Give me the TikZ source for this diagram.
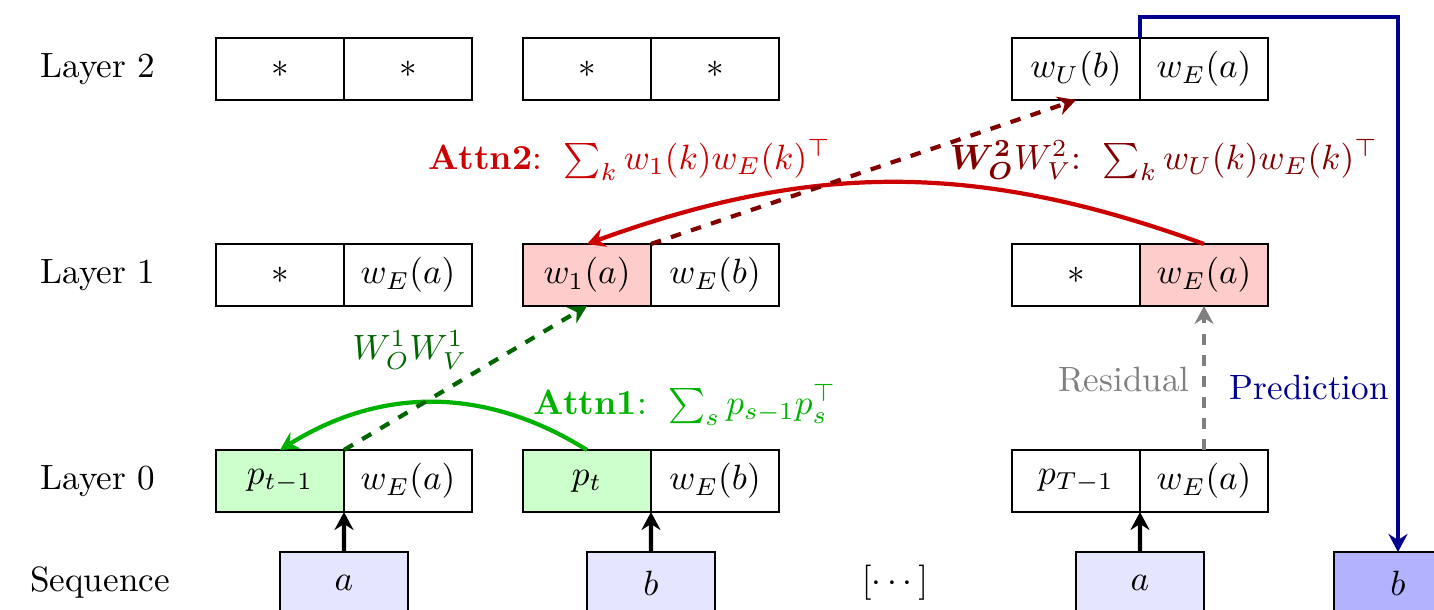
\documentclass[tikz,border=0pt]{standalone}
\usepackage{amsmath,amssymb,bm}
\usepackage{xcolor}
\usepackage{tikz}
\usetikzlibrary{arrows.meta,positioning,calc}

\begin{document}
\begin{tikzpicture}[
  cell/.style={rectangle, draw=black, minimum width=1.28cm, minimum height=0.62cm, inner sep=0pt, outer sep=0pt},
  tok/.style={cell, fill=blue!10},
  attn/.style={draw, -{Stealth[length=1.8mm, width=1.9mm, inset=0.6mm]}, very thick},
  ov/.style={attn, dashed}]

  \useasboundingbox (0,0) rectangle (14.34,-6.10);

  % row labels
  \node (t2) at (0.98,-0.69) {Layer 2};
  \node (t1) at (0.98,-2.75) {Layer 1};
  \node (t0) at (0.98,-4.81) {Layer 0};
  \node (ts) at (1.00,-5.83) {Sequence};

  % layer 2
  \node [cell] (l2g1l) at (2.80,-0.69) {$*$};
  \node [cell, right=0pt of l2g1l] (l2g1r) {$*$};
  \node [cell] (l2g2l) at (5.87,-0.69) {$*$};
  \node [cell, right=0pt of l2g2l] (l2g2r) {$*$};
  \node [cell] (l2g3l) at (10.76,-0.69) {$w_U(b)$};
  \node [cell, right=0pt of l2g3l] (l2g3r) {$w_E(a)$};

  % layer 1
  \node [cell] (l1g1l) at (2.80,-2.75) {$*$};
  \node [cell, right=0pt of l1g1l] (l1g1r) {$w_E(a)$};
  \node [cell, fill=red!20] (l1g2l) at (5.87,-2.75) {$w_1(a)$};
  \node [cell, right=0pt of l1g2l] (l1g2r) {$w_E(b)$};
  \node [cell] (l1g3l) at (10.76,-2.75) {$*$};
  \node [cell, fill=red!20, right=0pt of l1g3l] (l1g3r) {$w_E(a)$};

  % layer 0
  \node [cell, fill=green!20] (l0g1l) at (2.80,-4.81) {$p_{t-1}$};
  \node [cell, right=0pt of l0g1l] (l0g1r) {$w_E(a)$};
  \node [cell, fill=green!20] (l0g2l) at (5.87,-4.81) {$p_t$};
  \node [cell, right=0pt of l0g2l] (l0g2r) {$w_E(b)$};
  \node [cell] (l0g3l) at (10.76,-4.81) {$p_{T-1}$};
  \node [cell, right=0pt of l0g3l] (l0g3r) {$w_E(a)$};

  % sequence
  \node [tok] (s1) at (3.44,-5.83) {$a$};
  \node [tok] (s2) at (6.51,-5.83) {$b$};
  \node (s3) at (8.95,-5.83) {$[\cdots]$};
  \node [tok] (s4) at (11.40,-5.83) {$a$};
  \node [tok, fill=blue!30] (s5) at (13.98,-5.83) {$b$};

  \path [attn] (s1.north) -- (l0g1l.south east);
  \path [attn] (s2.north) -- (l0g2l.south east);
  \path [attn] (s4.north) -- (l0g3l.south east);

  % attention 1
  \path [attn, green!70!black] (l0g2l.north) to[bend right=32] (l0g1l.north);
  \node [green!70!black] (a1) at (6.85,-4.05) {$\textbf{Attn1}\text{: }\sum_s p_{s-1}p_s^\top$};
  \path [ov, green!40!black] (l0g1l.north east) -- (l1g2l.south);
  \node [green!40!black] (o1) at (4.10,-3.50) {$W_O^1W_V^1$};

  % attention 2
  \path [attn, red!80!black] (l1g3r.north) to[bend right=20] (l1g2l.north);
  \node [red!80!black] (a2) at (6.30,-1.60) {$\textbf{Attn2}\text{: }\sum_k w_1(k)w_E(k)^\top$};
  \path [ov, red!50!black] (l1g2l.north east) -- (l2g3l.south);
  \node [red!50!black] (o2) at (11.64,-1.60) {$\bm{W_O^2}W_V^2\text{: }\sum_k w_U(k)w_E(k)^\top$};

  % residual and prediction
  \path [ov, gray] (l0g3r.north) -- (l1g3r.south);
  \node [gray, anchor=east] (res) at (12.02,-3.80) {Residual};
  \path [attn, blue!55!black] (l2g3l.north east) -- ++(0,0.21) -| (s5.north);
  \node [blue!55!black, anchor=east] (pred) at (14.01,-3.88) {Prediction};
\end{tikzpicture}
\end{document}
